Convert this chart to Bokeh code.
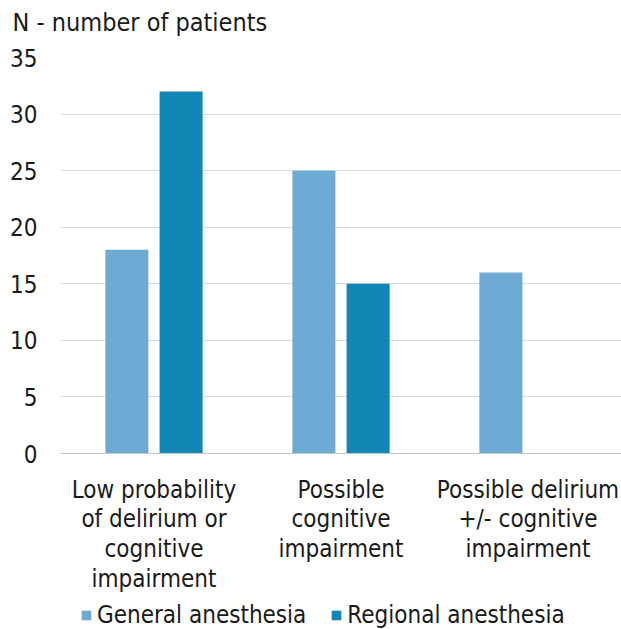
from bokeh.plotting import figure
from bokeh.layouts import column
from bokeh.models import FactorRange, Range1d, Legend, LegendItem, SingleIntervalTicker, ColumnDataSource
from bokeh.transform import dodge
from bokeh.embed import file_html
from bokeh.resources import INLINE

categories = ["Low probability\nof delirium or\ncognitive\nimpairment",
              "Possible\ncognitive\nimpairment",
              "Possible delirium\n+/- cognitive\nimpairment"]
general = [18, 25, 16]
regional = [32, 15, 0]
series_names = ["General anesthesia", "Regional anesthesia"]
y_title = "N - number of patients"

FONT = "DejaVu Sans Condensed"
FS = "24px"
TXT = "#1a1a1a"
LIGHT = "#6DABD5"
DARK = "#1186B4"

src = ColumnDataSource(dict(cat=categories, general=general, regional=regional))

# title strip above the chart
tt = figure(width=621, height=45, output_backend="svg", toolbar_location=None,
            x_range=Range1d(0, 1), y_range=Range1d(0, 1),
            x_axis_location=None, y_axis_location=None,
            min_border=0, outline_line_color=None)
tt.grid.grid_line_color = None
tt.title.text = y_title
tt.title.align = "left"
tt.title.vertical_align = "bottom"
tt.title.offset = -48
tt.title.standoff = 11
tt.title.text_font = FONT
tt.title.text_font_size = "25px"
tt.title.text_font_style = "normal"
tt.title.text_color = TXT

p = figure(x_range=FactorRange(*categories, range_padding=0), y_range=Range1d(0, 35),
           width=621, height=550, output_backend="svg", toolbar_location=None, title=None,
           min_border_left=60, min_border_right=0, min_border_top=12, min_border_bottom=141)

p.vbar(x=dodge("cat", -0.145, range=p.x_range), top="general", width=0.23, source=src,
       fill_color=LIGHT, line_color=None)
p.vbar(x=dodge("cat", 0.145, range=p.x_range), top="regional", width=0.23, source=src,
       fill_color=DARK, line_color=None)

p.yaxis.ticker = SingleIntervalTicker(interval=5)
p.yaxis.axis_line_color = None
p.yaxis.major_tick_line_color = None
p.yaxis.minor_tick_line_color = None
p.yaxis.major_label_text_font = FONT
p.yaxis.major_label_text_font_size = FS
p.yaxis.major_label_text_color = TXT
p.yaxis.major_label_standoff = 17

p.xaxis.axis_line_color = "#c4c4c4"
p.xaxis.major_tick_line_color = None
p.xaxis.minor_tick_line_color = None
p.xaxis.major_label_text_font = FONT
p.xaxis.major_label_text_font_size = FS
p.xaxis.major_label_text_line_height = 1.06
p.xaxis.major_label_text_color = TXT
p.xaxis.major_label_standoff = 16

p.xgrid.grid_line_color = None
p.ygrid.grid_line_color = "#dadada"
p.outline_line_color = None

# legend strip below the chart
lg = figure(width=621, height=34, output_backend="svg", toolbar_location=None,
            x_range=Range1d(0, 1), y_range=Range1d(0, 1),
            x_axis_location=None, y_axis_location=None,
            min_border=0, outline_line_color=None)
lg.grid.grid_line_color = None
d1 = lg.vbar(x=[-1], top=[0], width=0.1, fill_color=LIGHT, line_color=None)
d2 = lg.vbar(x=[-1], top=[0], width=0.1, fill_color=DARK, line_color=None)
legend = Legend(items=[LegendItem(label=series_names[0], renderers=[d1]),
                       LegendItem(label=series_names[1], renderers=[d2])],
                orientation="horizontal", location=(20, 0))
legend.glyph_width = 12
legend.glyph_height = 12
legend.label_text_font = FONT
legend.label_text_font_size = FS
legend.label_text_color = TXT
legend.border_line_color = None
legend.background_fill_alpha = 0
legend.spacing = 24
legend.label_standoff = 5
legend.padding = 0
legend.margin = 0
lg.add_layout(legend)

open("out.html", "w").write(file_html(column(tt, p, lg, spacing=0), INLINE))
